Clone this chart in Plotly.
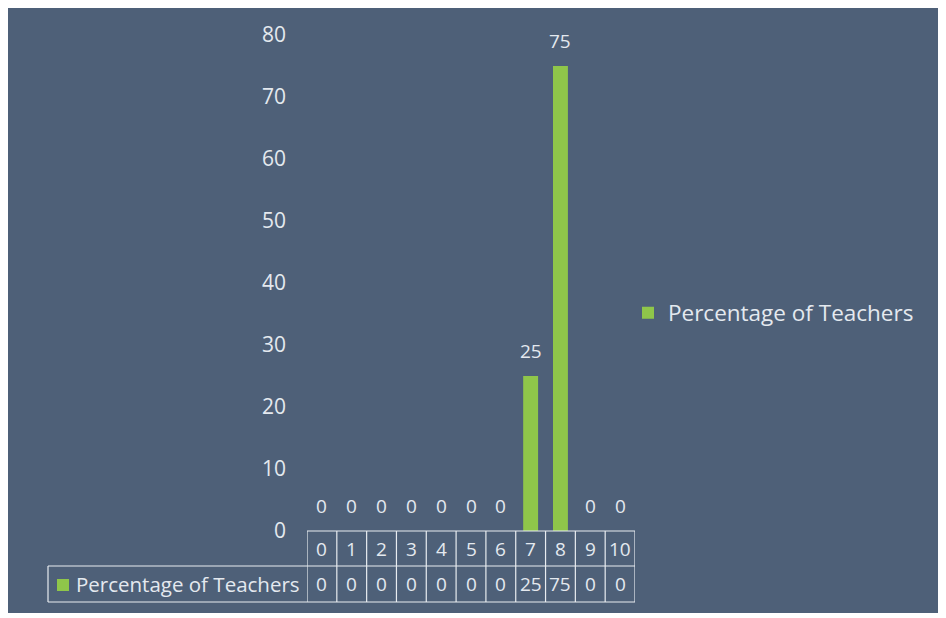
import plotly.graph_objects as go

# Data
scores = ["0", "1", "2", "3", "4", "5", "6", "7", "8", "9", "10"]
pct_teachers = [0, 0, 0, 0, 0, 0, 0, 25, 75, 0, 0]
series_name = "Percentage of Teachers"
y_ticks = [0, 10, 20, 30, 40, 50, 60, 70, 80]

W, H = 946, 618
BG = "#4e6078"
GREEN = "#8fc64a"
TXT = "#e4e9ef"
FONT = "Open Sans"

# positions in screen pixels (page has an 8px body margin)
x_left, x_right = 307, 635
y_base, y_top = 531, 35
tbl_mid, tbl_bot = 566, 602
lbl_left = 48


def px(x):
    return (x - 8) / W


def py(y):
    return 1 - (y - 8) / H


fig = go.Figure()
fig.add_trace(go.Bar(
    x=scores,
    y=pct_teachers,
    name=series_name,
    marker=dict(color=GREEN, line=dict(width=0)),
    width=0.5,
))

# data labels above the bars
annotations = []
for s, v in zip(scores, pct_teachers):
    annotations.append(dict(
        x=s, y=v, xref="x", yref="y", text=str(v), showarrow=False,
        yanchor="bottom", yshift=10, font=dict(size=19, color=TXT, family=FONT),
    ))

# data table under the axis
for s, v in zip(scores, pct_teachers):
    annotations.append(dict(
        x=s, y=py((y_base + tbl_mid) / 2), xref="x", yref="paper", text=s,
        showarrow=False, yanchor="middle", font=dict(size=19, color=TXT, family=FONT),
    ))
    annotations.append(dict(
        x=s, y=py((tbl_mid + tbl_bot) / 2), xref="x", yref="paper", text=str(v),
        showarrow=False, yanchor="middle", font=dict(size=19, color=TXT, family=FONT),
    ))
annotations.append(dict(
    x=px(302), y=py((tbl_mid + tbl_bot) / 2), xref="paper", yref="paper",
    text=series_name, showarrow=False, xanchor="right", yanchor="middle",
    font=dict(size=20.5, color=TXT, family=FONT),
))

line = dict(color="#e8ecf0", width=1.2)
shapes = [
    dict(type="rect", xref="paper", yref="paper", x0=0, x1=px(941),
         y0=py(613), y1=1, fillcolor=BG, line=dict(width=0), layer="below"),
    # table borders
    dict(type="line", xref="x", yref="paper", x0=-0.5, x1=len(scores) - 0.5,
         y0=py(y_base), y1=py(y_base), line=line),
    dict(type="line", xref="paper", yref="paper", x0=px(lbl_left), x1=px(x_right),
         y0=py(tbl_mid), y1=py(tbl_mid), line=line),
    dict(type="line", xref="paper", yref="paper", x0=px(lbl_left), x1=px(x_right),
         y0=py(tbl_bot), y1=py(tbl_bot), line=line),
    dict(type="line", xref="paper", yref="paper", x0=px(lbl_left), x1=px(lbl_left),
         y0=py(tbl_mid), y1=py(tbl_bot), line=line),
    # legend key in the table row
    dict(type="rect", xref="paper", yref="paper", x0=px(57), x1=px(69),
         y0=py(591), y1=py(579), fillcolor=GREEN, line=dict(width=0)),
]
for i in range(len(scores) + 1):
    shapes.append(dict(type="line", xref="x", yref="paper", x0=i - 0.5, x1=i - 0.5,
                       y0=py(tbl_bot), y1=py(y_base), line=line))

fig.update_layout(
    width=W, height=H,
    margin=dict(l=0, r=0, t=0, b=0),
    paper_bgcolor="white",
    plot_bgcolor="rgba(0,0,0,0)",
    font=dict(family=FONT, color=TXT, size=19),
    showlegend=True,
    legend=dict(x=px(628), y=py(313), xanchor="left", yanchor="middle",
                font=dict(size=22.5, color=TXT, family=FONT),
                bgcolor="rgba(0,0,0,0)"),
    xaxis=dict(domain=[px(x_left), px(x_right)], range=[-0.5, len(scores) - 0.5],
               showticklabels=False, showgrid=False, zeroline=False, showline=False,
               ticks="", automargin=False),
    yaxis=dict(domain=[py(y_base), py(y_top)], range=[0, 80], tickvals=y_ticks,
               showgrid=False, zeroline=False, showline=False, ticks="",
               automargin=False, ticklabelstandoff=20,
               tickfont=dict(size=21, color=TXT, family=FONT)),
    annotations=annotations,
    shapes=shapes,
)

fig.write_html("out.html")
